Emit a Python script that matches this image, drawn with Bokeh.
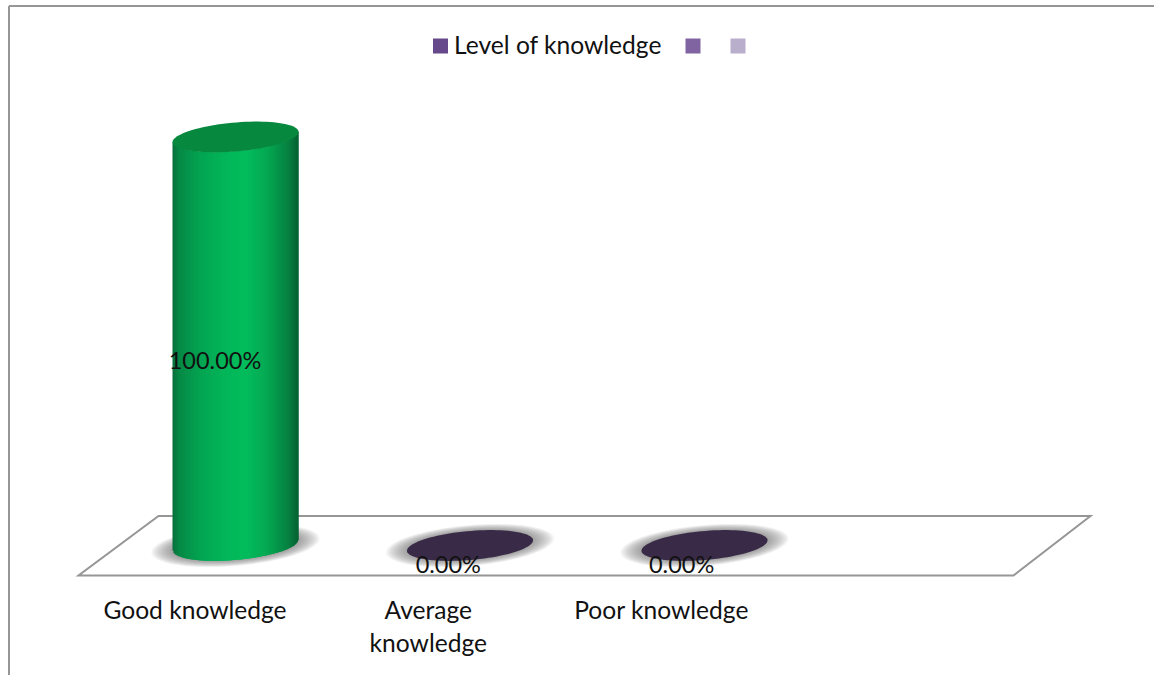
import numpy as np
from bokeh.plotting import figure
from bokeh.embed import file_html
from bokeh.resources import INLINE
from bokeh.core.properties import value

categories = ["Good knowledge", "Average\nknowledge", "Poor knowledge"]
level_of_knowledge = [100.0, 0.0, 0.0]
value_labels = ["100.00%", "0.00%", "0.00%"]
legend_labels = ["Level of knowledge", "", ""]
legend_colors = ["#65498A", "#8064A2", "#B9AECB"]

FONT = "Lato"
W, H = 1148, 672
OX, OY = 6, 3            # page position of the figure's corner
X0, DX = 235.0, 234.5    # page x of category 0, page px per category
Y0, PY = 545.0, 4.085    # page y of value 0, page px per value unit
LABEL_STEP = 233.3 / 234.5  # text labels sit on a slightly tighter pitch


def X(px):
    return (px - X0) / DX


def Y(py):
    return (Y0 - py) / PY


p = figure(width=W, height=H, output_backend="svg", toolbar_location=None,
           x_range=(X(OX), X(OX + W)), y_range=(Y(OY + H), Y(OY)),
           min_border=0, margin=(OY, 0, 0, OX))
p.axis.visible = False
p.grid.visible = False
p.outline_line_color = None
p.background_fill_color = "white"
p.border_fill_color = "white"

GREY = "#969696"
# chart frame
p.line([X(8.5), X(8.5)], [Y(676), Y(5.5)], line_color=GREY, line_width=2)
p.line([X(8.5), X(1154)], [Y(5.5), Y(5.5)], line_color=GREY, line_width=2)

# floor
p.patch([X(78), X(1013), X(1090), X(158)], [Y(575), Y(575), Y(515.5), Y(515.5)],
        fill_color="white", fill_alpha=1, line_color=GREY, line_width=2,
        line_join="miter")

A, B, SK = 63.0, 14.5, 0.082  # cylinder half width, half height, skew (px)


def ellipse(i, v, a=A, b=B, n=90):
    t = np.linspace(0, 2 * np.pi, n)
    dx = a * np.cos(t)
    dy = b * np.sin(t) - SK * dx
    return i + dx / DX, v - dy / PY


def edge(dx):
    """page-px offset of the ellipse's lower edge at offset dx"""
    return B * np.sqrt(np.clip(1 - (dx / A) ** 2, 0, 1)) - SK * dx


def body_colour(f):
    # f in 0..1 across the cylinder
    stops = [0.0, 0.05, 0.22, 0.42, 0.58, 0.75, 0.92, 1.0]
    r = [0x08, 0x06, 0x03, 0x02, 0x03, 0x04, 0x06, 0x05]
    g = [0x6E, 0x88, 0xA4, 0xB6, 0xBC, 0xA8, 0x80, 0x62]
    b = [0x3C, 0x45, 0x52, 0x59, 0x5C, 0x53, 0x40, 0x32]
    return "#%02X%02X%02X" % (round(np.interp(f, stops, r)),
                              round(np.interp(f, stops, g)),
                              round(np.interp(f, stops, b)))


# soft shadows on the floor
for i in range(len(categories)):
    for k in range(12):
        f = k / 11
        xs, ys = ellipse(i, 0, a=84 - 21 * f, b=20.5 - 6 * f)
        p.patch(xs, ys, fill_color="#707070", fill_alpha=0.075, line_color=None)

# cylinders: overlapping strips so no background shows between them
for i, v in enumerate(level_of_knowledge):
    if v > 0:
        dxs = np.arange(-A, A, 1.0)
        rights = np.minimum(dxs + 2.5, A)
        cols = [body_colour((d + 0.5 + A) / (2 * A)) for d in dxs]
        low = np.minimum(edge(dxs), edge(rights))
        p.quad(left=i + dxs / DX, right=i + rights / DX,
               bottom=0 - low / PY, top=v - low / PY,
               fill_color=cols, fill_alpha=1, line_color=None)
    xs, ys = ellipse(i, v)
    p.patch(xs, ys, fill_color="#06883F" if v > 0 else "#392B47", fill_alpha=1,
            line_color=None)

# value labels
p.text([i * LABEL_STEP - 20.5 / DX for i in range(3)],
       [v / 2 - 18.5 / PY for v in level_of_knowledge],
       text=value_labels, text_font=value(FONT), text_font_size="23.5px",
       text_color="#111111", text_align="center", text_baseline="middle")

# category labels
cat_x = [i * LABEL_STEP - 40.5 / DX for i in range(3)]
p.text(cat_x, [Y(594)] * 3, text=categories, text_font=value(FONT),
       text_font_size="24.6px", text_color="#111111", text_align="center",
       text_baseline="top", text_line_height=1.17)

# legend
p.scatter([X(440), X(692.5), X(737.5)], [Y(45.5)] * 3, marker="square", size=15,
          fill_color=legend_colors, fill_alpha=1, line_color=None)
p.text([X(453.5), X(707), X(752)], [Y(44)] * 3, text=legend_labels,
       text_font=value(FONT), text_font_size="24.6px", text_color="#111111",
       text_baseline="middle")

open("out.html", "w").write(file_html(p, INLINE))
